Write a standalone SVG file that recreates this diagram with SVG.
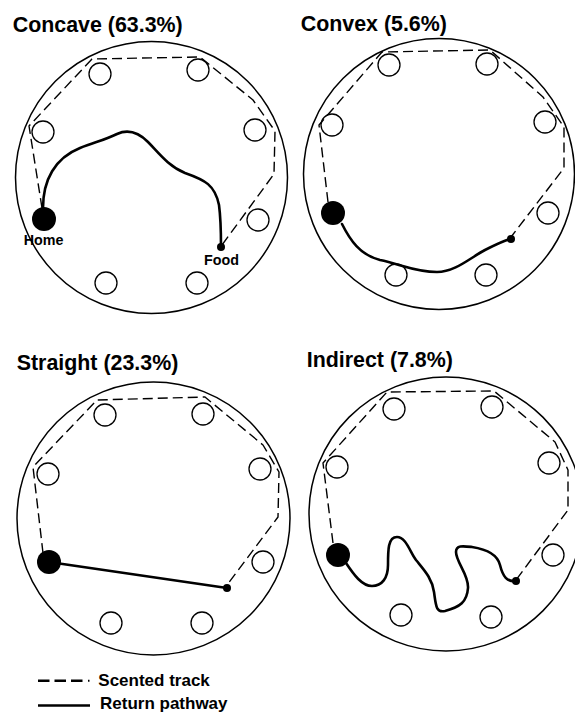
<svg xmlns="http://www.w3.org/2000/svg" width="575" height="713" viewBox="0 0 575 713">
<style>
.arena{fill:none;stroke:#000;stroke-width:1.5}
.hole{fill:#fff;stroke:#000;stroke-width:1.3}
.home{fill:#000}
.food{fill:#000}
.scent{fill:none;stroke:#000;stroke-width:1.4;stroke-dasharray:10 5;stroke-linejoin:round}
.ret{fill:none;stroke:#000;stroke-width:2.6;stroke-linecap:round;stroke-linejoin:round}
.title{font-family:"Liberation Sans",Arial,sans-serif;font-weight:bold;font-size:21.4px;fill:#000}
.lbl{font-family:"Liberation Sans",Arial,sans-serif;font-weight:bold;font-size:14.3px;fill:#000}
.leg{font-family:"Liberation Sans",Arial,sans-serif;font-weight:bold;font-size:17px;fill:#000}
</style>
<rect width="575" height="713" fill="#fff"/>

<!-- Panel 1: Concave -->
<g id="panel-concave">
<text class="title" x="12.7" y="32.3">Concave (63.3%)</text>
<circle class="arena" cx="151.5" cy="177.5" r="136"/>
<g class="hole">
<circle cx="100" cy="74" r="11"/><circle cx="198" cy="70" r="11"/>
<circle cx="43" cy="132" r="11"/><circle cx="255" cy="130" r="11"/>
<circle cx="258" cy="220" r="11"/><circle cx="106" cy="283" r="11"/>
<circle cx="197" cy="283" r="11"/>
</g>
</g>
<g id="home-concave"><circle class="home" cx="44" cy="219" r="12"/><text class="lbl" x="43.5" y="245" text-anchor="middle">Home</text></g>
<g id="food-concave"><circle class="food" cx="221" cy="247" r="4"/><text class="lbl" x="221.5" y="265" text-anchor="middle">Food</text></g>

<!-- Panel 2: Convex -->
<g id="panel-convex">
<text class="title" x="300.7" y="30.7">Convex (5.6%)</text>
<circle class="arena" cx="439" cy="174" r="135.5"/>
<g class="hole">
<circle cx="389" cy="65" r="11"/><circle cx="487" cy="64" r="11"/>
<circle cx="332" cy="125" r="11"/><circle cx="545" cy="122" r="11"/>
<circle cx="548" cy="213" r="11"/><circle cx="396" cy="275" r="11"/>
<circle cx="486" cy="275" r="11"/>
</g>
</g>
<g id="home-convex"><circle class="home" cx="333" cy="213" r="12"/></g>
<g id="food-convex"><circle class="food" cx="511" cy="239" r="4"/></g>

<!-- Panel 3: Straight -->
<g id="panel-straight">
<text class="title" x="16.7" y="370">Straight (23.3%)</text>
<circle class="arena" cx="153.5" cy="518.5" r="136.5"/>
<g class="hole">
<circle cx="105" cy="415" r="11"/><circle cx="203" cy="414" r="11"/>
<circle cx="48" cy="474" r="11"/><circle cx="260" cy="469" r="11"/>
<circle cx="263" cy="562" r="11"/><circle cx="111" cy="623" r="11"/>
<circle cx="202" cy="623" r="11"/>
</g>
</g>
<g id="home-straight"><circle class="home" cx="49" cy="562" r="12"/></g>
<g id="food-straight"><circle class="food" cx="227" cy="588" r="4"/></g>

<!-- Panel 4: Indirect -->
<g id="panel-indirect">
<text class="title" x="306.7" y="367">Indirect (7.8%)</text>
<circle class="arena" cx="446" cy="514" r="137"/>
<g class="hole">
<circle cx="394" cy="409" r="11"/><circle cx="492" cy="407" r="11"/>
<circle cx="337" cy="467" r="11"/><circle cx="549" cy="463" r="11"/>
<circle cx="553" cy="555" r="11"/><circle cx="401" cy="615" r="11"/>
<circle cx="491" cy="617" r="11"/>
</g>
</g>
<g id="home-indirect"><circle class="home" cx="338" cy="555" r="12"/></g>
<g id="food-indirect"><circle class="food" cx="516" cy="581" r="4"/></g>

<!-- Connectors -->
<g id="connectors">
<polyline class="scent" points="42,208 29,126 92,59 200,57 253,100 275,131 274,174 222,245"/>
<path class="ret" d="M43,208 C43,180 55,158 80,148 C95,142 105,140 117,134 C128,129 138,132 148,142 C158,152 168,166 185,173 C205,180 215,185 219,205 C221,220 221,235 221,247"/>

<polyline class="scent" points="328,202 319,125 382,52 490,50 543,97 564,127 564,168 511,237"/>
<path class="ret" d="M342,224 C350,240 360,255 380,260 C400,264 415,272 437,272 C455,272 470,258 485,250 C497,244 505,240 511,239"/>

<polyline class="scent" points="43,553 33,467 97,400 205,397 263,445 279,472 278,517 227,585"/>
<line class="ret" x1="49" y1="562" x2="227" y2="588"/>

<polyline class="scent" points="333,543 323,463 387,392 494,391 555,442 568,470 568,510 516,580"/>
<path class="ret" d="M346,563 C354,575 362,586 372,586 C382,586 388,578 388,565 C388,550 388,537 397,537 C406,537 410,552 416,560 C424,570 432,578 434,592 C436,606 436,613 445,611 C460,607 467,602 468,588 C469,575 456,562 456,552 C456,545 463,546 472,547 C485,549 497,553 500,565 C503,577 507,582 516,581"/>
</g>

<!-- Legend -->
<g id="legend">
<line x1="38" y1="680.7" x2="85" y2="680.7" stroke="#000" stroke-width="2.4" stroke-dasharray="11.5 5"/>
<line x1="88" y1="680.7" x2="89.5" y2="680.7" stroke="#000" stroke-width="2"/>
<text class="leg" x="98.3" y="685.7">Scented track</text>
<line x1="38" y1="705.5" x2="90" y2="705.5" stroke="#000" stroke-width="2.6"/>
<text class="leg" x="100" y="708.8">Return pathway</text>
</g>
</svg>
